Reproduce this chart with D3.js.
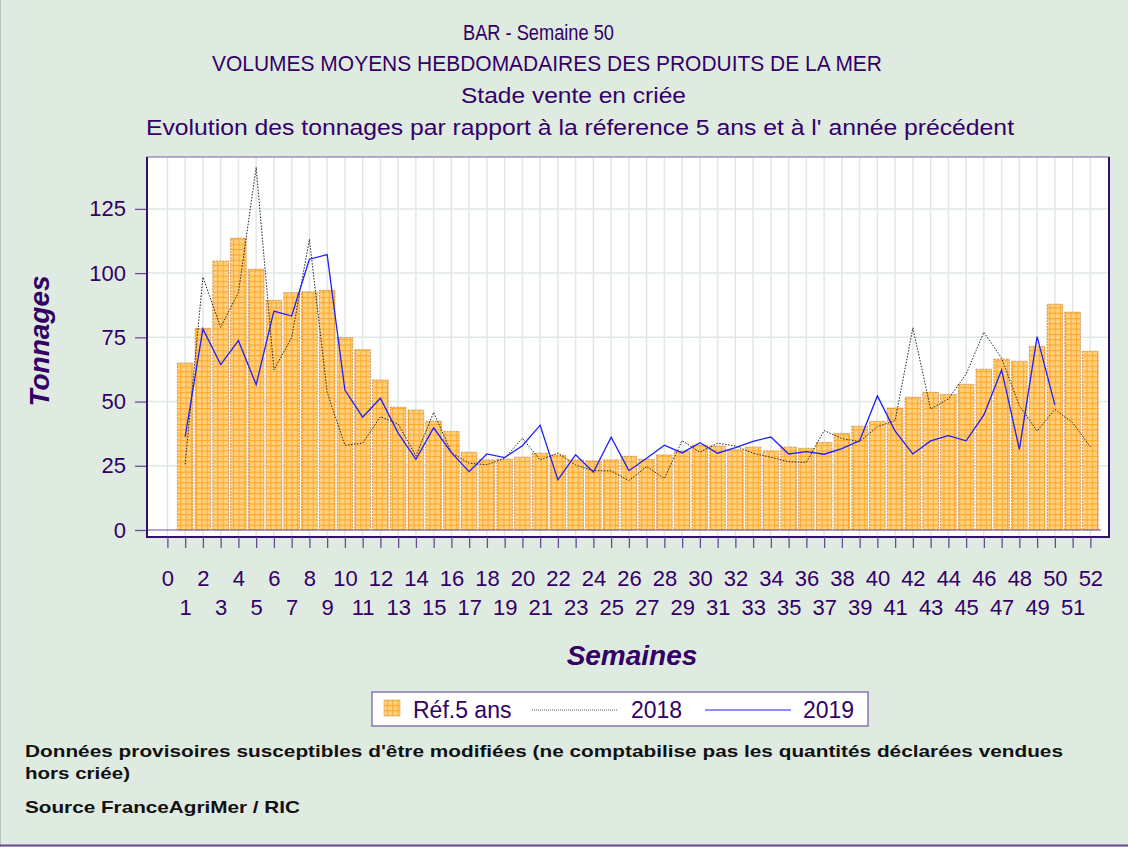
<!DOCTYPE html>
<html>
<head>
<meta charset="utf-8">
<script src="https://cdn.jsdelivr.net/npm/d3@7"></script>
<style>
  body { margin: 0; background: #dfebe1; }
  svg { display: block; }
  text { font-family: "Liberation Sans", Arial, sans-serif; fill: #330066; }
  .title { font-family: "Liberation Sans Narrow", "Liberation Sans", sans-serif; font-size: 22px; }
  .note { font-weight: bold; fill: #111; font-size: 17px; font-family: "Liberation Sans", Arial, sans-serif; }
</style>
</head>
<body>
<div id="chart"></div>
<script>
// semaines 1..52
var weeks = d3.range(1, 53);
var ref5 = [65, 78.5, 104.7, 113.6, 101.5, 89.4, 92.4, 92.7, 93.3, 74.9,
            70.2, 58.4, 47.8, 46.7, 42.4, 38.4, 30.3, 27.3, 27.6, 28.4,
            29.9, 29.1, 27.3, 26.9, 27.3, 28.7, 27.5, 29.2, 30.8, 33.0,
            32.7, 31.2, 32.3, 30.8, 32.3, 31.8, 34.1, 37.6, 40.4, 42.3,
            47.5, 51.7, 53.6, 52.8, 56.7, 62.6, 66.5, 65.7, 71.5, 87.9,
            84.8, 69.6];
var y2018 = [25.6, 98.4, 78.9, 92.4, 141.2, 62.3, 74.9, 113.2, 53.6, 33.0,
             33.8, 44.1, 41.3, 28.8, 45.8, 30.1, 26.0, 25.4, 27.9, 35.7,
             27.3, 29.9, 25.3, 23.1, 23.0, 19.2, 24.7, 20.1, 34.8, 30.3,
             33.8, 32.7, 29.9, 28.3, 26.6, 26.3, 38.7, 35.6, 34.4, 40.2,
             42.6, 78.7, 47.1, 51.0, 60.7, 77.0, 66.9, 48.4, 38.5, 47.0,
             41.8, 32.4];
var y2019 = [36.3, 78.3, 64.4, 73.7, 56.6, 85.2, 83.3, 105.4, 107.2, 54.5,
             43.9, 51.3, 37.7, 27.5, 39.8, 30.1, 22.7, 29.6, 28.2, 32.8,
             40.8, 19.5, 29.3, 22.5, 36.1, 23.1, 27.9, 33.0, 30.0, 34.0,
             29.9, 32.1, 34.5, 36.2, 29.6, 30.5, 29.5, 31.7, 34.7, 52.2,
             38.5, 29.6, 34.7, 36.7, 34.7, 44.8, 62.3, 31.4, 75.3, 48.7];
var yTicks = [0, 25, 50, 75, 100, 125];
var xTicks = d3.range(0, 53);

var width = 1128, height = 847;
var pLeft = 147, pRight = 1109, pTop = 157, pBottom = 537, zeroY = 530;

var svg = d3.select('#chart').append('svg')
  .attr('width', width).attr('height', height);

svg.append('rect').attr('width', width).attr('height', height).attr('fill', '#dfebe1');
svg.append('line').attr('x1', 0.5).attr('x2', 0.5).attr('y1', 0).attr('y2', height)
  .attr('stroke', '#b8c4bc');
svg.append('line').attr('x1', 0).attr('x2', width).attr('y1', 845.5).attr('y2', 845.5)
  .attr('stroke', '#6a4c93').attr('stroke-width', 2);

// motif quadrillé des barres
var defs = svg.append('defs');
var pat = defs.append('pattern').attr('id', 'grille')
  .attr('patternUnits', 'userSpaceOnUse').attr('width', 5.3).attr('height', 5.3);
pat.append('rect').attr('width', 5.3).attr('height', 5.3).attr('fill', '#ffd080');
pat.append('path').attr('d', 'M0,0.5H5.3M0.5,0V5.3')
  .attr('stroke', '#ffa826').attr('stroke-width', 1);

var x = d3.scaleLinear().domain([-1.15, 53.05]).range([pLeft, pRight]);
var y = d3.scaleLinear().domain([0, 145.2]).range([zeroY, pTop]);

// fond du graphique
svg.append('rect').attr('x', pLeft).attr('y', pTop)
  .attr('width', pRight - pLeft).attr('height', pBottom - pTop).attr('fill', '#fff');

// grille
svg.append('g').selectAll('line').data(xTicks).enter().append('line')
  .attr('x1', function(d) { return x(d); }).attr('x2', function(d) { return x(d); })
  .attr('y1', pTop).attr('y2', pBottom)
  .attr('stroke', '#dfe9e2').attr('stroke-width', 1.5);
svg.append('g').selectAll('line').data(yTicks.slice(1)).enter().append('line')
  .attr('x1', pLeft).attr('x2', pRight)
  .attr('y1', function(d) { return y(d); }).attr('y2', function(d) { return y(d); })
  .attr('stroke', '#dfe9e2').attr('stroke-width', 1.5);

// barres réf. 5 ans
var bw = 15.6;
svg.append('g').selectAll('rect').data(ref5).enter().append('rect')
  .attr('x', function(d, i) { return x(weeks[i]) - bw / 2; })
  .attr('y', function(d) { return y(d); })
  .attr('width', bw)
  .attr('height', function(d) { return y(0) - y(d); })
  .attr('fill', 'url(#grille)')
  .attr('stroke', '#b8803f').attr('stroke-width', 0.7)
  .attr('stroke-dasharray', '2,1');

// ligne zéro
svg.append('line').attr('x1', pLeft).attr('x2', x(52.6))
  .attr('y1', y(0)).attr('y2', y(0))
  .attr('stroke', '#6a4c93').attr('stroke-width', 1);

var line = d3.line()
  .x(function(d, i) { return x(weeks[i]); })
  .y(function(d) { return y(d); });

svg.append('path').datum(y2018).attr('d', line)
  .attr('fill', 'none').attr('stroke', '#222').attr('stroke-width', 1)
  .attr('stroke-dasharray', '1.5,1.5');
svg.append('path').datum(y2019).attr('d', line)
  .attr('fill', 'none').attr('stroke', '#1f1fff').attr('stroke-width', 1.3);

// cadre
svg.append('rect').attr('x', pLeft).attr('y', pTop)
  .attr('width', pRight - pLeft).attr('height', pBottom - pTop)
  .attr('fill', 'none').attr('stroke', '#8a78ad').attr('stroke-width', 1.2);
svg.append('path').attr('d', 'M' + pLeft + ',' + pTop + 'V' + pBottom + 'H' + pRight + 'V' + pTop)
  .attr('fill', 'none').attr('stroke', '#35106a').attr('stroke-width', 2);

// axe Y
var yAxis = svg.append('g').attr('transform', 'translate(' + (pLeft - 1) + ',0)')
  .call(d3.axisLeft(y).tickValues(yTicks).tickSize(11).tickPadding(9));
yAxis.select('.domain').remove();
yAxis.selectAll('line').attr('stroke', '#6a4c93').attr('stroke-width', 1.3);
yAxis.selectAll('text').attr('font-size', 22).attr('fill', '#330066')
  .attr('font-family', '"Liberation Sans", Arial, sans-serif');

// axe X
var xAxis = svg.append('g').attr('transform', 'translate(0,' + pBottom + ')')
  .call(d3.axisBottom(x).tickValues(xTicks).tickSize(11).tickPadding(0));
xAxis.select('.domain').remove();
xAxis.selectAll('line').attr('stroke', '#6a4c93').attr('stroke-width', 1.3);
xAxis.selectAll('text')
  .attr('font-size', 22).attr('fill', '#330066')
  .attr('font-family', '"Liberation Sans", Arial, sans-serif')
  .attr('dy', null)
  .attr('y', function(d) { return d % 2 === 0 ? 49 : 78; });

// titres d'axes
svg.append('text').attr('transform', 'translate(49,341) rotate(-90)')
  .attr('text-anchor', 'middle').attr('font-size', 28)
  .attr('font-style', 'italic').attr('font-weight', 'bold').text('Tonnages');
svg.append('text').attr('x', 632).attr('y', 665)
  .attr('text-anchor', 'middle').attr('font-size', 28)
  .attr('font-style', 'italic').attr('font-weight', 'bold').text('Semaines');

// titres
var titles = [
  { t: 'BAR - Semaine 50', x: 463, y: 40, w: 151 },
  { t: 'VOLUMES MOYENS HEBDOMADAIRES DES PRODUITS DE LA MER', x: 212, y: 71, w: 670 },
  { t: 'Stade vente en criée', x: 461, y: 103, w: 225 },
  { t: "Evolution des tonnages par rapport à la réference 5 ans et à l' année précédent", x: 146, y: 135, w: 868 }
];
svg.append('g').selectAll('text').data(titles).enter().append('text')
  .attr('class', 'title')
  .attr('x', function(d) { return d.x; }).attr('y', function(d) { return d.y; })
  .attr('textLength', function(d) { return d.w; })
  .attr('lengthAdjust', 'spacingAndGlyphs')
  .text(function(d) { return d.t; });

// légende
var lg = svg.append('g');
lg.append('rect').attr('x', 372).attr('y', 692).attr('width', 496).attr('height', 34)
  .attr('fill', '#fff').attr('stroke', '#7a62a8').attr('stroke-width', 1.3);
lg.append('rect').attr('x', 384).attr('y', 700).attr('width', 16).attr('height', 16)
  .attr('fill', 'url(#grille)').attr('stroke', '#d9a35a').attr('stroke-width', 0.6);
lg.append('text').attr('x', 413).attr('y', 718).attr('font-size', 23).text('Réf.5 ans');
lg.append('line').attr('x1', 532).attr('x2', 618).attr('y1', 710).attr('y2', 710)
  .attr('stroke', '#555').attr('stroke-width', 1).attr('stroke-dasharray', '1,1');
lg.append('text').attr('x', 631).attr('y', 718).attr('font-size', 23).text('2018');
lg.append('line').attr('x1', 705).attr('x2', 791).attr('y1', 710).attr('y2', 710)
  .attr('stroke', '#1f1fff').attr('stroke-width', 1.2);
lg.append('text').attr('x', 803).attr('y', 718).attr('font-size', 23).text('2019');

// notes
var notes = [
  { t: "Données provisoires susceptibles d'être modifiées (ne comptabilise pas les quantités déclarées vendues", y: 757, w: 1038 },
  { t: 'hors criée)', y: 779, w: 105 },
  { t: 'Source FranceAgriMer / RIC', y: 813, w: 275 }
];
svg.append('g').selectAll('text').data(notes).enter().append('text')
  .attr('class', 'note').attr('x', 25)
  .attr('y', function(d) { return d.y; })
  .attr('textLength', function(d) { return d.w; })
  .attr('lengthAdjust', 'spacingAndGlyphs')
  .text(function(d) { return d.t; });
</script>
</body>
</html>
